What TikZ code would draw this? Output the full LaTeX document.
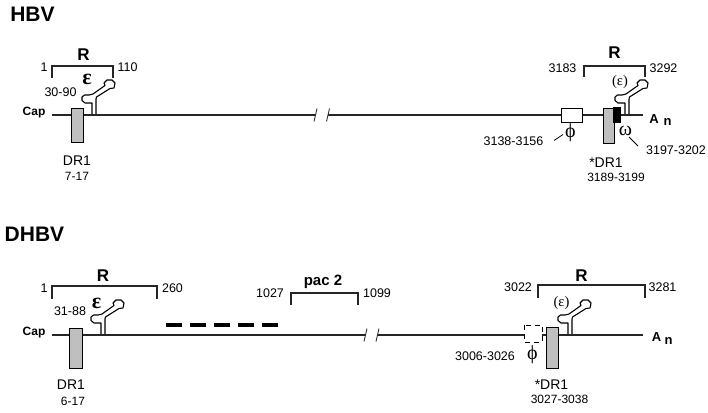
\documentclass[tikz,border=0pt]{standalone}
\usepackage{fontspec}
\setmainfont{Liberation Sans}
\newfontfamily\grk{Liberation Serif}
\begin{document}
\begin{tikzpicture}[x=1pt,y=-1pt,
  every node/.style={inner sep=0pt},
  ln/.style={line width=1.2pt, black!85},
  brk/.style={line width=0.9pt, black!80},
  thin/.style={line width=0.8pt},
  drbox/.style={draw, line width=1pt, fill=black!25},
  title/.style={font=\fontsize{21}{24}\selectfont\bfseries},
  rlab/.style={font=\fontsize{17}{19}\selectfont\bfseries},
  num/.style={font=\fontsize{12.5}{15}\selectfont},
  drnum/.style={font=\fontsize{12}{14}\selectfont},
  drlab/.style={font=\fontsize{14}{16}\selectfont},
  caplab/.style={font=\fontsize{12}{14}\selectfont\bfseries},
  anlab/.style={font=\fontsize{13}{15}\selectfont\bfseries},
  eps/.style={font=\fontsize{22}{24}\selectfont\grk\bfseries},
  peps/.style={font=\fontsize{14.5}{16}\selectfont\grk},
  phi/.style={font=\fontsize{20}{22}\selectfont\grk},
  stemloop/.pic={\draw[line width=1.1pt, fill=white, line join=round]
    (-2,0) -- (-2,-12) -- (-9,-12) -- (-12,-14.5) -- (-12,-18) -- (-9.5,-20) -- (-5,-20)
    -- (-1,-21) -- (11,-29.5) -- (10,-32) -- (13,-35) -- (18,-35) -- (21,-32)
    -- (20,-27) -- (16,-26.5) -- (2.5,-18) -- (2,-16) -- (2,0);}
]
\useasboundingbox (0,0) rectangle (708,412);

% ================= HBV =================
\node[title] (hbv) at (32.5,14.5) {HBV};

% stem loops
\pic at (94,115) {stemloop};
\pic at (627,115) {stemloop};

% main line
\draw[ln] (52,115) -- (315.5,115);
\draw[ln] (327.5,115) -- (643,115);
\draw[brk] (314,121.5) -- (317,108.5);
\draw[brk] (326.5,121.5) -- (329.5,108.5);

% R brackets
\draw[ln] (52,78) -- (52,66) -- (113,66) -- (113,78);
\draw[ln] (584,77) -- (584,66) -- (645,66) -- (645,77);
\node[rlab] (r1) at (83.5,55) {R};
\node[rlab] (r2) at (614.5,53) {R};
\node[num] (n1) at (44,67.5) {1};
\node[num] (n110) at (127.5,67.5) {110};
\node[num] (n3183) at (562.5,68.5) {3183};
\node[num] (n3292) at (663.5,68.5) {3292};

% epsilon labels
\node[eps] (e1) at (87,79.5) {ε};
\node[num] (n3090) at (60.5,92.5) {30-90};
\node[peps] (e2) at (620,82) {(ε)};

% boxes
\draw[drbox] (71,108) rectangle (83,142);
\draw[line width=1pt, fill=white] (561,108) rectangle (582,122);
\draw[drbox] (603,108) rectangle (614,143);
\draw[line width=1pt, fill=black] (613,107) rectangle (620,122);

\node[caplab, anchor=base] (cap1) at (34,115.5) {Cap};
\node[anlab] (a1) at (654,119) {A};
\node[anlab] (an1) at (667.5,121.5) {n};

\node[drlab] (dr1a) at (77,161) {DR1};
\node[drnum] (d717) at (77,176.5) {7-17};

\node[phi] (phi1) at (570.5,132.5) {ϕ};
\draw[thin] (554,140.5) -- (563,134.5);
\node[num] (n3138) at (513.5,141) {3138-3156};

\node[phi] (om1) at (625.5,131) {ω};
\draw[thin] (629,137) -- (638,146);
\node[num] (n3197) at (676,150.5) {3197-3202};

\node[drlab] (dr1b) at (606,163) {*DR1};
\node[drnum] (d3189) at (616,177.5) {3189-3199};

% ================= DHBV =================
\node[title] (dhbv) at (34.5,234.5) {DHBV};

\pic at (103,335) {stemloop};
\pic at (570,335) {stemloop};

\draw[ln] (52,335) -- (365.5,335);
\draw[ln] (377.5,335) -- (643,335);
\draw[brk] (364,341.5) -- (367,328.5);
\draw[brk] (376,341.5) -- (379,328.5);

% brackets
\draw[ln] (52,299) -- (52,286) -- (157,286) -- (157,299);
\draw[ln] (291,305) -- (291,293) -- (358,293) -- (358,305);
\draw[ln] (538,298) -- (538,285) -- (645,285) -- (645,298);
\node[rlab] (r3) at (103,275.5) {R};
\node[rlab] (r4) at (581.5,275.5) {R};
\node[font=\fontsize{15}{17}\selectfont\bfseries, anchor=base] (pac) at (323,285) {pac 2};
\node[num] (m1) at (44,288.5) {1};
\node[num] (m260) at (172.5,288) {260};
\node[num] (m1027) at (270,293.5) {1027};
\node[num] (m1099) at (377,293.5) {1099};
\node[num] (m3022) at (518,287.5) {3022};
\node[num] (m3281) at (662.5,287.5) {3281};

\node[eps] (e3) at (96.5,303) {ε};
\node[num] (m3188) at (70,311) {31-88};
\node[peps] (e4) at (561.5,303) {(ε)};

% thick dashes
\draw[line width=4pt, dash pattern=on 16pt off 8pt] (166,325) -- (278,325);

% boxes
\draw[drbox] (69,328) rectangle (82,368);
\draw[line width=1pt, fill=white, dash pattern=on 5pt off 4pt] (524,325) rectangle (542,342);
\draw[drbox] (546,327) rectangle (558,368);

\node[caplab, anchor=base] (cap2) at (34,335.5) {Cap};
\node[anlab] (a2) at (656.5,337.5) {A};
\node[anlab] (an2) at (668.5,341) {n};

\node[drlab] (dr1c) at (71,384.5) {DR1};
\node[drnum] (d617) at (73,401) {6-17};

\node[phi] (phi2) at (532.5,355) {ϕ};
\node[num] (m3006) at (485,356) {3006-3026};

\node[drlab] (dr1d) at (551.5,385) {*DR1};
\node[drnum] (d3027) at (559.5,399.5) {3027-3038};
\end{tikzpicture}
\end{document}
